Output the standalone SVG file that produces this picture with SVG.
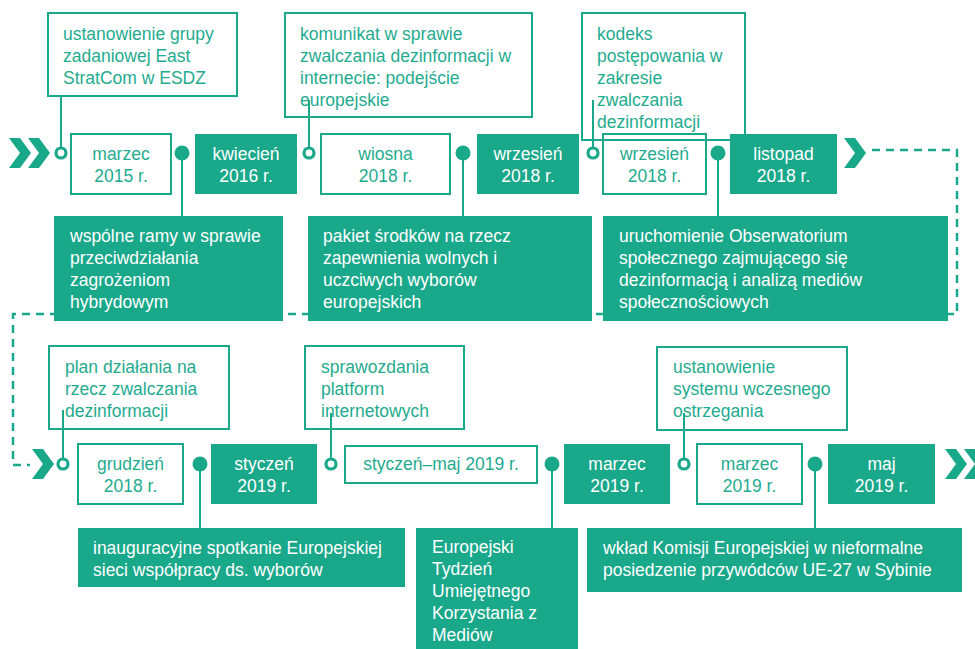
<svg xmlns="http://www.w3.org/2000/svg" xmlns:xlink="http://www.w3.org/1999/xlink" width="975" height="649" viewBox="0 0 975 649">
<style>
.fb{fill:#1aa88b}
.ob{fill:none;stroke:#1aa88b;stroke-width:2}
.t{font-family:'Liberation Sans','DejaVu Sans',sans-serif;font-size:17.5px}
.tg{fill:#1fab8f}
.tw{fill:#ffffff}
.c{text-anchor:middle}
.ln{stroke:#1aa88b;stroke-width:2;fill:none}
.dash{stroke:#1aa88b;stroke-width:2.5;fill:none;stroke-dasharray:8 6}
.oc{fill:#ffffff;stroke:#1aa88b;stroke-width:3.2}
.fc{fill:#1aa88b}
.chev{fill:#1aa88b}
</style>
<defs>
<path id="chev" d="M0 0 H11 L22 15 L11 30 H0 L11 15 Z"/>
</defs>
<rect x="0" y="0" width="975" height="649" fill="#ffffff"/>

<g id="timeline-path">
<path class="dash" d="M872 150 H957 V314 H13 V465 H30"/>
<use href="#chev" class="chev" x="9" y="138"/>
<use href="#chev" class="chev" x="28" y="138"/>
<use href="#chev" class="chev" x="844" y="138"/>
<use href="#chev" class="chev" x="32" y="449"/>
<use href="#chev" class="chev" x="945" y="449"/>
<use href="#chev" class="chev" x="964" y="449"/>
</g>

<!-- top row events -->
<g id="ev-eaststratcom">
<rect class="ob" x="48" y="13" width="189" height="83"/>
<text class="t tg" x="63" y="40">ustanowienie grupy</text>
<text class="t tg" x="63" y="62">zadaniowej East</text>
<text class="t tg" x="63" y="84">StratCom w ESDZ</text>
</g>
<g id="ev-komunikat">
<rect class="ob" x="285" y="13" width="247" height="104"/>
<text class="t tg" x="300" y="40">komunikat w sprawie</text>
<text class="t tg" x="300" y="62">zwalczania dezinformacji w</text>
<text class="t tg" x="300" y="84">internecie: podejście</text>
<text class="t tg" x="300" y="106">europejskie</text>
</g>
<g id="ev-kodeks">
<rect class="ob" x="582" y="13" width="163" height="127"/>
<text class="t tg" x="597" y="40">kodeks</text>
<text class="t tg" x="597" y="62">postępowania w</text>
<text class="t tg" x="597" y="84">zakresie</text>
<text class="t tg" x="597" y="106">zwalczania</text>
<text class="t tg" x="597" y="128">dezinformacji</text>
</g>

<g id="d-marzec2015">
<rect class="ob" x="71" y="134" width="100" height="60"/>
<text class="t tg c" x="121" y="160">marzec</text>
<text class="t tg c" x="121" y="182">2015 r.</text>
</g>
<g id="d-kwiecien2016">
<rect class="fb" x="195" y="134" width="102" height="60"/>
<text class="t tw c" x="246" y="160">kwiecień</text>
<text class="t tw c" x="246" y="182">2016 r.</text>
</g>
<g id="d-wiosna2018">
<rect class="ob" x="321" y="134" width="129" height="60"/>
<text class="t tg c" x="385.5" y="160">wiosna</text>
<text class="t tg c" x="385.5" y="182">2018 r.</text>
</g>
<g id="d-wrzesien2018a">
<rect class="fb" x="477" y="134" width="102" height="60"/>
<text class="t tw c" x="528" y="160">wrzesień</text>
<text class="t tw c" x="528" y="182">2018 r.</text>
</g>
<g id="d-wrzesien2018b">
<rect class="ob" x="603" y="134" width="103" height="60"/>
<text class="t tg c" x="654.5" y="160">wrzesień</text>
<text class="t tg c" x="654.5" y="182">2018 r.</text>
</g>
<g id="d-listopad2018">
<rect class="fb" x="730" y="134" width="107" height="60"/>
<text class="t tw c" x="783.5" y="160">listopad</text>
<text class="t tw c" x="783.5" y="182">2018 r.</text>
</g>

<g id="ev-wspolne">
<rect class="fb" x="54" y="216" width="229" height="105"/>
<text class="t tw" x="70" y="242">wspólne ramy w sprawie</text>
<text class="t tw" x="70" y="264">przeciwdziałania</text>
<text class="t tw" x="70" y="286">zagrożeniom</text>
<text class="t tw" x="70" y="308">hybrydowym</text>
</g>
<g id="ev-pakiet">
<rect class="fb" x="308" y="216" width="284" height="105"/>
<text class="t tw" x="323" y="242">pakiet środków na rzecz</text>
<text class="t tw" x="323" y="264">zapewnienia wolnych i</text>
<text class="t tw" x="323" y="286">uczciwych wyborów</text>
<text class="t tw" x="323" y="308">europejskich</text>
</g>
<g id="ev-obserwatorium">
<rect class="fb" x="603" y="216" width="345" height="105"/>
<text class="t tw" x="619" y="242">uruchomienie Obserwatorium</text>
<text class="t tw" x="619" y="264">społecznego zajmującego się</text>
<text class="t tw" x="619" y="286">dezinformacją i analizą mediów</text>
<text class="t tw" x="619" y="308">społecznościowych</text>
</g>

<!-- bottom row events -->
<g id="ev-plan">
<rect class="ob" x="49" y="346" width="180" height="83"/>
<text class="t tg" x="65" y="373">plan działania na</text>
<text class="t tg" x="65" y="395">rzecz zwalczania</text>
<text class="t tg" x="65" y="417">dezinformacji</text>
</g>
<g id="ev-sprawozdania">
<rect class="ob" x="305" y="346" width="159" height="83"/>
<text class="t tg" x="321" y="373">sprawozdania</text>
<text class="t tg" x="321" y="395">platform</text>
<text class="t tg" x="321" y="417">internetowych</text>
</g>
<g id="ev-system">
<rect class="ob" x="657" y="347" width="190" height="83"/>
<text class="t tg" x="673" y="373">ustanowienie</text>
<text class="t tg" x="673" y="395">systemu wczesnego</text>
<text class="t tg" x="673" y="417">ostrzegania</text>
</g>

<g id="d-grudzien2018">
<rect class="ob" x="78" y="444" width="105" height="60"/>
<text class="t tg c" x="130.5" y="470">grudzień</text>
<text class="t tg c" x="130.5" y="492">2018 r.</text>
</g>
<g id="d-styczen2019">
<rect class="fb" x="211" y="444" width="106" height="60"/>
<text class="t tw c" x="264" y="470">styczeń</text>
<text class="t tw c" x="264" y="492">2019 r.</text>
</g>
<g id="d-styczen-maj2019">
<rect class="ob" x="345" y="446" width="192" height="37"/>
<text class="t tg c" x="441" y="470">styczeń–maj 2019 r.</text>
</g>
<g id="d-marzec2019a">
<rect class="fb" x="564" y="444" width="106" height="60"/>
<text class="t tw c" x="617" y="470">marzec</text>
<text class="t tw c" x="617" y="492">2019 r.</text>
</g>
<g id="d-marzec2019b">
<rect class="ob" x="697" y="444" width="105" height="60"/>
<text class="t tg c" x="749.5" y="470">marzec</text>
<text class="t tg c" x="749.5" y="492">2019 r.</text>
</g>
<g id="d-maj2019">
<rect class="fb" x="828" y="444" width="107" height="60"/>
<text class="t tw c" x="881.5" y="470">maj</text>
<text class="t tw c" x="881.5" y="492">2019 r.</text>
</g>

<g id="ev-inauguracyjne">
<rect class="fb" x="78" y="528" width="327" height="59"/>
<text class="t tw" x="93" y="554">inauguracyjne spotkanie Europejskiej</text>
<text class="t tw" x="93" y="576">sieci współpracy ds. wyborów</text>
</g>
<g id="ev-tydzien">
<rect class="fb" x="416" y="528" width="162" height="125"/>
<text class="t tw" x="432" y="553">Europejski</text>
<text class="t tw" x="432" y="575">Tydzień</text>
<text class="t tw" x="432" y="597">Umiejętnego</text>
<text class="t tw" x="432" y="619">Korzystania z</text>
<text class="t tw" x="432" y="641">Mediów</text>
</g>
<g id="ev-sybin">
<rect class="fb" x="587" y="528" width="375" height="64"/>
<text class="t tw" x="603" y="554">wkład Komisji Europejskiej w nieformalne</text>
<text class="t tw" x="603" y="576">posiedzenie przywódców UE-27 w Sybinie</text>
</g>

<g id="connectors">
<line class="ln" x1="61" y1="96" x2="61" y2="153"/>
<line class="ln" x1="309" y1="100" x2="309" y2="153"/>
<line class="ln" x1="593" y1="100" x2="593" y2="153"/>
<line class="ln" x1="182" y1="153" x2="182" y2="216"/>
<line class="ln" x1="463" y1="153" x2="463" y2="216"/>
<line class="ln" x1="718" y1="153" x2="718" y2="216"/>
<line class="ln" x1="63" y1="410" x2="63" y2="464"/>
<line class="ln" x1="331" y1="413" x2="331" y2="464"/>
<line class="ln" x1="684" y1="413" x2="684" y2="464"/>
<line class="ln" x1="200" y1="464" x2="200" y2="528"/>
<line class="ln" x1="552" y1="464" x2="552" y2="528"/>
<line class="ln" x1="815" y1="464" x2="815" y2="528"/>
<circle class="oc" cx="61" cy="153" r="5"/>
<circle class="oc" cx="309" cy="153" r="5"/>
<circle class="oc" cx="593" cy="153" r="5"/>
<circle class="fc" cx="182" cy="153" r="7.5"/>
<circle class="fc" cx="463" cy="153" r="7.5"/>
<circle class="fc" cx="718" cy="153" r="7.5"/>
<circle class="oc" cx="63" cy="464" r="5"/>
<circle class="oc" cx="331" cy="464" r="5"/>
<circle class="oc" cx="684" cy="464" r="5"/>
<circle class="fc" cx="200" cy="464" r="7.5"/>
<circle class="fc" cx="552" cy="464" r="7.5"/>
<circle class="fc" cx="815" cy="464" r="7.5"/>
</g>
</svg>
